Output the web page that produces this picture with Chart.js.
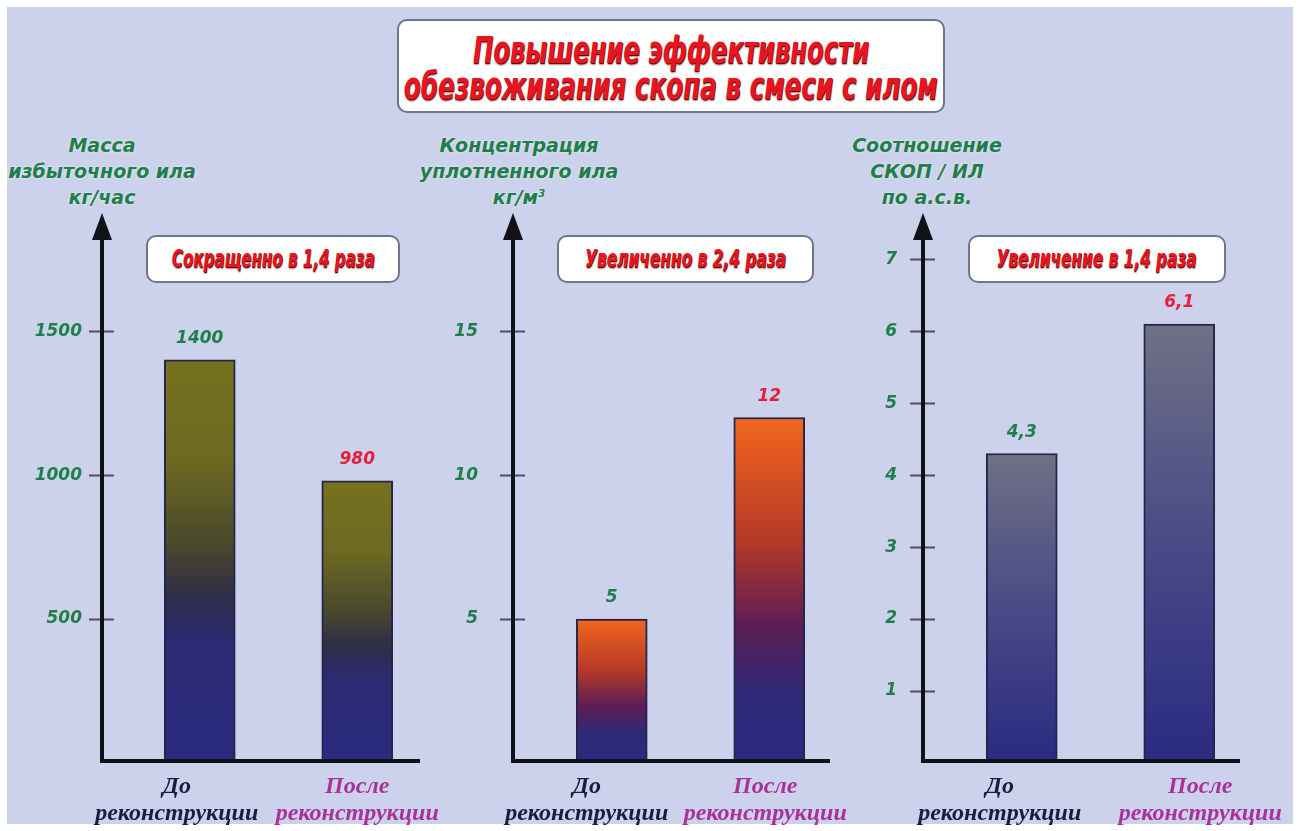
<!DOCTYPE html>
<html lang="ru">
<head>
<meta charset="utf-8">
<title>Повышение эффективности обезвоживания скопа в смеси с илом</title>
<script src="https://cdn.jsdelivr.net/npm/chart.js@4.4.1/dist/chart.umd.min.js"></script>
<style>
  html, body { margin: 0; padding: 0; background: #fff; width: 1300px; height: 831px; overflow: hidden; }
  #page { position: absolute; left: 7px; top: 7px; width: 1286px; height: 817px; background: #cdd2ec; }
  .box { position: absolute; background: #fff; border: 2px solid #70768a; border-radius: 10px; box-sizing: border-box;
         display: flex; flex-direction: column; align-items: center; }
  .red { display: block; white-space: nowrap; color: #ea1420; font-family: "DejaVu Sans"; font-weight: bold; font-style: italic;
         text-shadow: 1px 1px 0 #5c0a0a, 1px 2px 2px rgba(60,0,0,.45); }
  #title { left: 397px; top: 19px; width: 548px; height: 94px; padding-top: 11px; }
  #title .red { font-size: 38px; line-height: 36px; }
  .badge { top: 235px; height: 48px; }
  .badge .red { font-size: 24px; line-height: 44px; }
  .axis-title { position: absolute; top: 132px; width: 260px; text-align: center; color: #1e7f4a;
                font: italic bold 19px "DejaVu Sans"; line-height: 26px; text-shadow: 0 0 3px rgba(255,255,255,.6); }
  .axis-title sup { font-size: 10px; line-height: 0; vertical-align: 7px; }
  canvas { position: absolute; top: 200px; }
</style>
</head>
<body>
<div id="page"></div>

<div id="title" class="box">
  <span class="red" data-w="396">Повышение эффективности</span>
  <span class="red" data-w="534">обезвоживания скопа в смеси с илом</span>
</div>

<div class="axis-title" style="left:-28px">Масса<br>избыточного ила<br>кг/час</div>
<div class="axis-title" style="left:389px">Концентрация<br>уплотненного ила<br>кг/м<sup>3</sup></div>
<div class="axis-title" style="left:797px">Соотношение<br>СКОП / ИЛ<br>по а.с.в.</div>

<div class="box badge" style="left:146px;width:254px"><span class="red" data-w="203">Сокращенно в 1,4 раза</span></div>
<div class="box badge" style="left:557px;width:257px"><span class="red" data-w="201">Увеличенно в 2,4 раза</span></div>
<div class="box badge" style="left:968px;width:258px"><span class="red" data-w="200">Увеличение в 1,4 раза</span></div>

<canvas id="massChart" width="460" height="631" style="left:0px"></canvas>
<canvas id="concChart" width="440" height="631" style="left:420px"></canvas>
<canvas id="ratioChart" width="460" height="631" style="left:840px"></canvas>

<script>
const categories = [["До", "реконструкции"], ["После", "реконструкции"]];

const massValues = [1400, 980];
const concValues = [5, 12];
const ratioValues = [4.3, 6.1];

const massTicks = [500, 1000, 1500];
const concTicks = [5, 10, 15];
const ratioTicks = [1, 2, 3, 4, 5, 6, 7];

const GREEN = "#1e7f4a";
const RED = "#e3203c";
const LABEL_COLORS = ["#1c1c40", "#a8329a"];

// colour stops run from the top of each bar down to its base
const massStops = [[0, "#77721e"], [0.25, "#6c6922"], [0.45, "#4b4a2b"], [0.58, "#302e45"], [0.7, "#2b2a72"], [1, "#2a2a82"]];
const concStops = [[0, "#f2661f"], [0.35, "#b73a26"], [0.6, "#5e1d55"], [0.8, "#2e2a78"], [1, "#2a2a82"]];
const ratioStops = [[0, "#707086"], [0.5, "#494a86"], [1, "#2a2a82"]];

// squeeze the heavy red captions to their box widths
document.querySelectorAll("[data-w]").forEach(el => {
  const k = Number(el.dataset.w) / el.getBoundingClientRect().width;
  el.style.transform = "scaleX(" + k.toFixed(3) + ")";
});

function barGradient(c, stops) {
  const chart = c.chart;
  if (!chart.chartArea || c.type !== "data") return stops[0][1];
  const y = chart.scales.y;
  const top = y.getPixelForValue(c.parsed.y);
  const base = y.getPixelForValue(0);
  const g = chart.ctx.createLinearGradient(0, top, 0, base);
  stops.forEach(s => g.addColorStop(s[0], s[1]));
  return g;
}

// arrowed y axis, x axis and the short tick marks across the y axis
const axisArrows = {
  id: "axisArrows",
  afterDatasetsDraw(chart, args, opts) {
    const { ctx, chartArea, scales } = chart;
    const ax = chartArea.left - opts.gap;
    const base = chartArea.bottom - 2;
    const tip = chartArea.top - 3;
    ctx.save();
    ctx.strokeStyle = "#4b4f6b";
    ctx.lineWidth = 2;
    scales.y.ticks.forEach(t => {
      const y = Math.round(scales.y.getPixelForValue(t.value)) + 0.5;
      ctx.beginPath();
      ctx.moveTo(ax - 13, y);
      ctx.lineTo(ax + 12, y);
      ctx.stroke();
    });
    ctx.strokeStyle = "#111118";
    ctx.lineWidth = 4;
    ctx.beginPath();
    ctx.moveTo(ax, tip + 24);
    ctx.lineTo(ax, base + 2);
    ctx.moveTo(ax - 2, base);
    ctx.lineTo(chartArea.right - opts.trim, base);
    ctx.stroke();
    ctx.fillStyle = "#111118";
    ctx.beginPath();
    ctx.moveTo(ax, tip);
    ctx.lineTo(ax - 10, tip + 27);
    ctx.lineTo(ax + 10, tip + 27);
    ctx.closePath();
    ctx.fill();
    ctx.restore();
  }
};

// value above each bar and the two-line caption below it
const barText = {
  id: "barText",
  afterDatasetsDraw(chart, args, opts) {
    const ctx = chart.ctx;
    const values = chart.data.datasets[0].data;
    const base = chart.chartArea.bottom;
    ctx.save();
    ctx.textAlign = "center";
    ctx.textBaseline = "middle";
    chart.getDatasetMeta(0).data.forEach((bar, i) => {
      ctx.font = "italic bold 17px 'DejaVu Sans'";
      ctx.fillStyle = i === 0 ? GREEN : RED;
      ctx.fillText(String(values[i]).replace(".", ","), bar.x, bar.y - 21);

      ctx.font = "italic bold 24px 'Liberation Serif'";
      ctx.fillStyle = LABEL_COLORS[i];
      chart.data.labels[i].forEach((line, j) => {
        ctx.fillText(line, bar.x + opts.shift[i], base + 24 + j * 27);
      });
    });
    ctx.restore();
  }
};

function makeChart(id, values, ticks, max, stops, geom) {
  return new Chart(document.getElementById(id), {
    type: "bar",
    data: {
      labels: categories,
      datasets: [{
        data: values,
        backgroundColor: c => barGradient(c, stops),
        borderColor: "#25254a",
        borderWidth: 2,
        barThickness: 71
      }]
    },
    options: {
      responsive: false,
      animation: false,
      events: [],
      layout: { padding: { left: 0, right: geom.padRight, top: 16, bottom: 0 } },
      plugins: {
        legend: { display: false },
        tooltip: { enabled: false },
        axisArrows: { gap: geom.gap, trim: geom.trim },
        barText: { shift: geom.shift }
      },
      scales: {
        x: {
          grid: { display: false, drawTicks: false },
          border: { display: false },
          ticks: { display: false },
          afterFit: s => { s.height = 68; s.paddingLeft = 0; s.paddingRight = 0; }
        },
        y: {
          min: 0,
          max: max,
          grid: { display: false, drawTicks: false },
          border: { display: false },
          ticks: {
            padding: geom.tickPad,
            color: GREEN,
            font: { family: "'DejaVu Sans'", size: 17, weight: "bold", style: "italic" },
            callback: v => String(v)
          },
          afterBuildTicks: s => { s.ticks = ticks.map(v => ({ value: v })); },
          afterFit: s => { s.width = geom.left; s.paddingTop = 0; s.paddingBottom = 0; }
        }
      }
    },
    plugins: [axisArrows, barText]
  });
}

makeChart("massChart", massValues, massTicks, 1900, massStops,
  { left: 121, padRight: 24, tickPad: 39, gap: 19, trim: 16, shift: [-23, 0] });
makeChart("concChart", concValues, concTicks, 19, concStops,
  { left: 113, padRight: 12, tickPad: 55, gap: 20, trim: 18, shift: [-25, -4] });
makeChart("ratioChart", ratioValues, ratioTicks, 7.6, ratioStops,
  { left: 103, padRight: 42, tickPad: 46, gap: 20, trim: 18, shift: [-22, 21] });
</script>
</body>
</html>
